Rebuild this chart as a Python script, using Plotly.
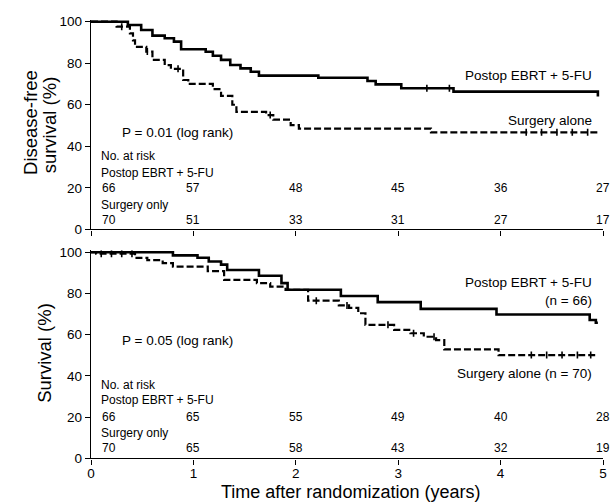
import numpy as np
import plotly.graph_objects as go

# ---------------- data ----------------
# Top panel: disease-free survival
dfs_ebrt_t = [0, 0.36, 0.49, 0.60, 0.72, 0.81, 0.88, 1.12, 1.19, 1.27, 1.36, 1.46, 1.56, 1.64,
              2.22, 2.70, 2.78, 3.03, 3.54, 4.95, 4.95]
dfs_ebrt_v = [100, 98.4, 96, 93.3, 92, 90.4, 86.7, 85.5, 83.6, 81.6, 79.1, 77.5, 75.9, 74,
              73, 71.4, 69.8, 67.9, 66.3, 66.3, 64]
dfs_surg_t = [0, 0.25, 0.38, 0.41, 0.43, 0.54, 0.60, 0.72, 0.78, 0.90, 0.95, 1.19, 1.27, 1.38,
              1.42, 1.71, 1.78, 1.95, 2.03, 3.32, 4.95]
dfs_surg_v = [100, 97.6, 94.4, 91, 87.9, 85.6, 81.6, 79.1, 77.3, 71.9, 70, 67.5, 64.3, 60,
              56.6, 55, 52.8, 50.2, 48.5, 46.7, 46.7]
dfs_ebrt_cens = [3.28, 3.50]
dfs_surg_cens = [0.30, 0.55, 0.85, 1.75, 4.25, 4.40, 4.55, 4.70, 4.85]

# Bottom panel: overall survival
os_ebrt_t = [0, 0.80, 1.04, 1.15, 1.27, 1.33, 1.64, 1.86, 1.92, 2.44, 2.80, 3.22, 3.96, 4.87, 4.93, 4.95]
os_ebrt_v = [100, 98.5, 97.3, 95.5, 94, 91.4, 88.6, 85, 81.8, 78.8, 75.8, 72.5, 69.8, 67.1, 65.8, 65.8]
os_surg_t = [0, 0.05, 0.43, 0.55, 0.70, 0.80, 1.14, 1.30, 1.62, 1.75, 1.90, 2.12, 2.42, 2.52,
             2.61, 2.68, 2.96, 3.12, 3.25, 3.37, 3.45, 3.98, 4.95]
os_surg_v = [100, 99.3, 97.3, 96.2, 94.7, 93, 90.8, 86.6, 85, 83.3, 81.7, 76.5, 74.2, 73,
             70.4, 64.8, 62.3, 60.7, 59, 57.4, 52.9, 50.1, 50.1]
os_surg_cens = [0.10, 0.20, 0.30, 0.40, 2.20, 2.50, 2.90, 3.15, 3.35, 4.30, 4.45, 4.60, 4.75, 4.88]

# Numbers at risk
years = [0, 1, 2, 3, 4, 5]
dfs_risk_ebrt = [66, 57, 48, 45, 36, 27]
dfs_risk_surg = [70, 51, 33, 31, 27, 17]
os_risk_ebrt = [66, 65, 55, 49, 40, 28]
os_risk_surg = [70, 65, 58, 43, 32, 19]

ytick_vals = [0, 20, 40, 60, 80, 100]

# ---------------- layout helpers ----------------
W_FIG, H_FIG = 616, 502
L, R, T, B = 91, 9, 19, 43
H = H_FIG - T - B


def py(p):
    return 1 - (p - T) / H


def clamp(v):
    return min(1.0, max(0.0, v))


def px(p):
    return (p - L) / (W_FIG - L - R)


FONT = "Liberation Sans, Arial, sans-serif"


def step_val(ts, vs, t):
    i = np.searchsorted(np.array(ts), t, side="right") - 1
    return vs[i]


fig = go.Figure()


def add_curves(xa, ya, et, ev, st, sv, ecens, scens):
    fig.add_trace(go.Scatter(x=et, y=ev, mode="lines", line_shape="hv",
                             line=dict(color="black", width=2.6),
                             xaxis=xa, yaxis=ya, showlegend=False, hoverinfo="skip"))
    fig.add_trace(go.Scatter(x=st, y=sv, mode="lines", line_shape="hv",
                             line=dict(color="black", width=2.2, dash="7px,3px"),
                             xaxis=xa, yaxis=ya, showlegend=False, hoverinfo="skip"))
    for cens, ts, vs in ((ecens, et, ev), (scens, st, sv)):
        if cens:
            fig.add_trace(go.Scatter(x=cens, y=[step_val(ts, vs, c) for c in cens],
                                     mode="markers",
                                     marker=dict(symbol="line-ns-open", size=5, color="black",
                                                 line=dict(color="black", width=1.6)),
                                     xaxis=xa, yaxis=ya, showlegend=False, hoverinfo="skip"))


add_curves("x", "y", dfs_ebrt_t, dfs_ebrt_v, dfs_surg_t, dfs_surg_v, dfs_ebrt_cens, dfs_surg_cens)
add_curves("x2", "y2", os_ebrt_t, os_ebrt_v, os_surg_t, os_surg_v, [], os_surg_cens)

axis_common = dict(showline=True, linecolor="black", linewidth=1.4, ticks="outside",
                   ticklen=5, tickwidth=1.3, tickcolor="black", showgrid=False, zeroline=False,
                   tickfont=dict(family=FONT, size=13.5, color="black"))

top_dom = [clamp(py(229.3)), clamp(py(19.6))]
bot_dom = [clamp(py(458.3)), clamp(py(250.2))]

fig.update_layout(
    width=W_FIG, height=H_FIG,
    margin=dict(l=L, r=R, t=T, b=B),
    plot_bgcolor="white", paper_bgcolor="white",
    xaxis=dict(domain=[0, 1], range=[0, 5], tickvals=years, showticklabels=False,
               anchor="y", **axis_common),
    yaxis=dict(domain=top_dom, range=[0, 101], tickvals=ytick_vals, anchor="x", **axis_common),
    xaxis2=dict(domain=[0, 1], range=[0, 5], tickvals=years, anchor="y2",
                ticklabelstandoff=-3, **axis_common),
    yaxis2=dict(domain=bot_dom, range=[0, 101], tickvals=ytick_vals, anchor="x2", **axis_common),
)

ann = []


def txt(text, x, y, xref, yref, size, xanchor="left", yanchor="middle", angle=0):
    ann.append(dict(text=text, x=x, y=y, xref=xref, yref=yref, showarrow=False,
                    xanchor=xanchor, yanchor=yanchor, textangle=angle,
                    font=dict(family=FONT, size=size, color="black")))


# Axis titles
txt("Disease-free", px(30), py(122.5), "paper", "paper", 18.5, "center", "middle", -90)
txt("survival (%)", px(49), py(125), "paper", "paper", 18.5, "center", "middle", -90)
txt("Survival (%)", px(43.5), py(353), "paper", "paper", 18.5, "center", "middle", -90)
txt("Time after randomization (years)", px(353), py(491.5), "paper", "paper", 18, "center", "middle")

# Top panel texts
txt("P = 0.01 (log rank)", 0.28, 46.5, "x", "y", 13.5)
txt("Postop EBRT + 5-FU", 4.91, 74, "x", "y", 13.5, "right")
txt("Surgery alone", 4.91, 52.6, "x", "y", 13.5, "right")
txt("No. at risk", 0.075, 35.5, "x", "y", 12)
txt("Postop EBRT + 5-FU", 0.075, 27, "x", "y", 12)
txt("Surgery only", 0.075, 11.8, "x", "y", 12)

# Bottom panel texts
txt("P = 0.05 (log rank)", 0.28, 57.4, "x2", "y2", 13.5)
txt("Postop EBRT + 5-FU", 4.91, 85.4, "x2", "y2", 13.5, "right")
txt("(n = 66)", 4.91, 76.8, "x2", "y2", 13.5, "right")
txt("Surgery alone (n = 70)", 4.91, 41.3, "x2", "y2", 13.5, "right")
txt("No. at risk", 0.075, 35.6, "x2", "y2", 12)
txt("Postop EBRT + 5-FU", 0.075, 28.3, "x2", "y2", 12)
txt("Surgery only", 0.075, 12.3, "x2", "y2", 12)

# Numbers at risk
for (xr, yr, ebrt, surg, ye, ys) in (("x", "y", dfs_risk_ebrt, dfs_risk_surg, 19.8, 4.5),
                                      ("x2", "y2", os_risk_ebrt, os_risk_surg, 20.2, 4.9)):
    for i, yr_ in enumerate(years):
        xpos = 0.18 if yr_ == 0 else yr_
        txt(str(ebrt[i]), xpos, ye, xr, yr, 12, "center")
        txt(str(surg[i]), xpos, ys, xr, yr, 12, "center")

fig.update_layout(annotations=ann)
fig.write_html("out.html", config={"displayModeBar": False},
               post_script="document.body.style.margin='0';document.body.style.overflow='hidden';")
